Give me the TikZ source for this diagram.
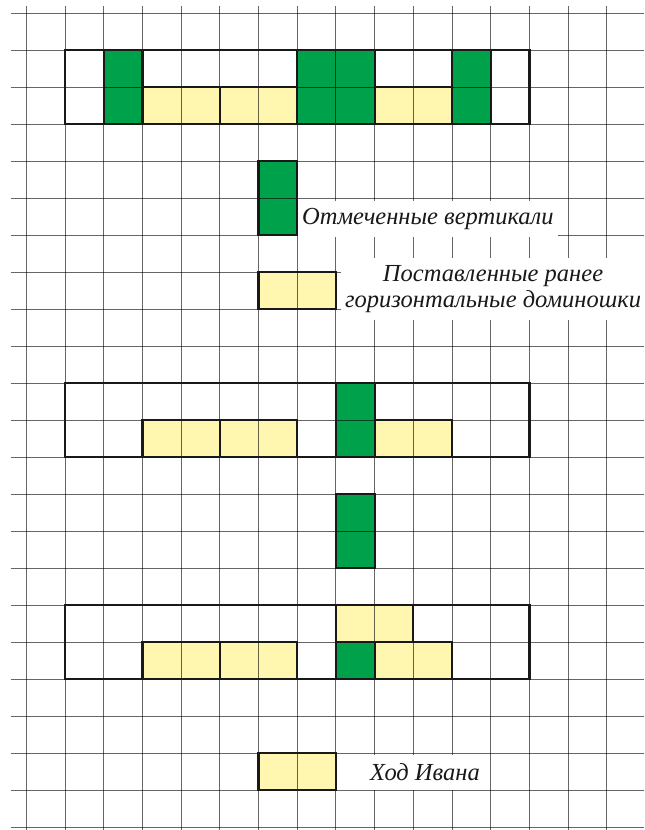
\documentclass[tikz,border=0pt]{standalone}
\usepackage{fontspec}
\setmainfont{Liberation Serif}
\definecolor{vertdomino}{RGB}{0,161,75}
\definecolor{jaunedomino}{RGB}{255,246,176}

\begin{document}
\begin{tikzpicture}[
    x=38.7pt, y=-37pt,  % une case du quadrillage
    grille/.style={black, opacity=0.6, line width=0.9pt},
    bord/.style={draw=black!90, line width=2.2pt},
    vert/.style={fill=vertdomino},
    jaune/.style={fill=jaunedomino},
    legende/.style={fill=white, text=black!90, inner ysep=0pt, inner xsep=4pt,
        font=\itshape\fontsize{24.5}{26}\selectfont, align=center}
]
% Cadre de l'image
\useasboundingbox (-0.680,-0.359) rectangle (15.961,22.073);
% Dominos verts puis jaunes
\foreach \x/\y in {2/1,7/1,8/1,11/1,6/4,8/10,8/13}
    \fill[vert] (\x,\y) rectangle ++(1,2);
\fill[vert] (8,17) rectangle ++(1,1);
\foreach \x/\y in {3/2,5/2,9/2,6/7,3/11,5/11,9/11,8/16,3/17,5/17,9/17,6/20}
    \fill[jaune] (\x,\y) rectangle ++(2,1);
% Quadrillage
\foreach \i in {0,...,15}
    \draw[grille] (\i,-0.2) -- (\i,22.073);
\foreach \j in {0,...,22}
    \draw[grille] (-0.4,\j) -- (15.961,\j);
% Les trois bandes
\foreach \y in {1,10,16}
    \draw[bord] (1,\y) rectangle ++(12,2);
% Contours des dominos
\foreach \x/\y/\w/\h in {2/1/1/2, 7/1/2/2, 11/1/1/2, 6/4/1/2, 8/10/1/2, 8/13/1/2, 8/17/1/1,
    3/2/2/1, 5/2/2/1, 9/2/2/1, 6/7/2/1, 3/11/2/1, 5/11/2/1, 9/11/2/1,
    8/16/2/1, 3/17/2/1, 5/17/2/1, 9/17/2/1, 6/20/2/1}
    \draw[bord] (\x,\y) rectangle ++(\w,\h);
% Legendes
\node[legende, anchor=west, minimum height=36pt] (verticales) at (7.02,5.56) {Отмеченные вертикали};
\node[legende, minimum height=62pt] (horizontales) at (12.06,7.45) {Поставленные ранее\\горизонтальные доминошки};
\node[legende, minimum height=35pt] (ivan) at (10.3,20.52) {Ход Ивана};
\end{tikzpicture}
\end{document}
